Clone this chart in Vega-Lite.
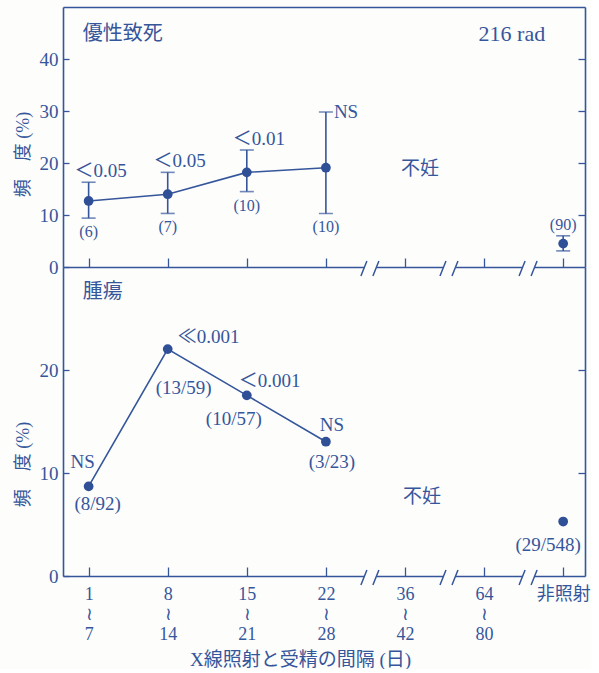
{
  "$schema": "https://vega.github.io/schema/vega-lite/v6.json",
  "autosize": {"type": "pad"},
  "padding": {"left": 14, "top": 7, "right": 0, "bottom": 0},
  "background": "#fdfdfc",
  "bounds": "flush",
  "spacing": 0,
  "config": {
    "view": {"stroke": null},
    "font": "'Liberation Serif', 'DejaVu Serif', 'Noto Sans CJK JP', serif",
    "text": {"color": "#35569b", "font": "'Liberation Serif', 'DejaVu Serif', 'Noto Sans CJK JP', serif", "fontSize": 19, "baseline": "middle"},
    "axis": {
      "domainColor": "#35569b", "domainWidth": 1.6,
      "tickColor": "#35569b", "tickWidth": 1.3,
      "labelColor": "#35569b", "titleColor": "#35569b",
      "labelFont": "'Liberation Serif', 'DejaVu Serif', 'Noto Sans CJK JP', serif",
      "titleFont": "'Liberation Serif', 'DejaVu Serif', 'Noto Sans CJK JP', serif",
      "labelFontSize": 19, "titleFontSize": 18, "titleFontWeight": "normal",
      "grid": false, "labelOverlap": false
    }
  },
  "datasets": {
    "lethal": [
      {"interval": "1~7", "rate": 12.7, "lo": 9.4, "hi": 16.3, "p": "＜0.05", "n": "(6)"},
      {"interval": "8~14", "rate": 14.0, "lo": 10.3, "hi": 18.2, "p": "＜0.05", "n": "(7)"},
      {"interval": "15~21", "rate": 18.2, "lo": 14.5, "hi": 22.5, "p": "＜0.01", "n": "(10)"},
      {"interval": "22~28", "rate": 19.1, "lo": 10.3, "hi": 29.8, "p": "NS", "n": "(10)"},
      {"interval": "非照射", "rate": 4.5, "lo": 3.1, "hi": 6.0, "p": null, "n": "(90)"}
    ],
    "tumor": [
      {"interval": "1~7", "rate": 8.70, "p": "NS", "n": "(8/92)"},
      {"interval": "8~14", "rate": 22.03, "p": "≪0.001", "n": "(13/59)"},
      {"interval": "15~21", "rate": 17.54, "p": "＜0.001", "n": "(10/57)"},
      {"interval": "22~28", "rate": 13.04, "p": "NS", "n": "(3/23)"},
      {"interval": "非照射", "rate": 5.29, "p": null, "n": "(29/548)"}
    ],
    "breaks": [
      {"after": "22~28"},
      {"after": "36~42"},
      {"after": "64~80"}
    ]
  },
  "vconcat": [
    {
      "width": 522,
      "height": 260,
      "data": {"name": "lethal"},
      "resolve": {"axis": {"x": "independent", "y": "independent"}},
      "layer": [
        {
          "transform": [{"filter": "datum.interval !== '非照射'"}],
          "mark": {"type": "line", "color": "#35569b", "strokeWidth": 1.6},
          "encoding": {
            "x": {"field": "interval", "type": "nominal", "scale": {"type": "point", "domain": ["1~7", "8~14", "15~21", "22~28", "36~42", "64~80", "非照射"], "padding": 0.3, "align": 0.54},
              "axis": {"orient": "bottom", "labels": false, "title": null, "tickSize": -9, "domain": true}},
            "y": {"field": "rate", "type": "quantitative", "scale": {"domain": [0, 50], "nice": false},
              "axis": {"orient": "left", "values": [0, 10, 20, 30, 40], "tickSize": -6, "labelPadding": 11,
                "title": "頻　度 (%)", "titleX": -40, "titleY": 147, "titleAngle": -90, "titleBaseline": "middle", "titleAlign": "center"}}
          }
        },
        {
          "mark": {"type": "point", "opacity": 0},
          "encoding": {
            "x": {"field": "interval", "type": "nominal", "scale": {"type": "point", "domain": ["1~7", "8~14", "15~21", "22~28", "36~42", "64~80", "非照射"], "padding": 0.3, "align": 0.54},
              "axis": {"orient": "top", "labels": false, "ticks": false, "title": null, "domain": true}},
            "y": {"field": "rate", "type": "quantitative", "scale": {"domain": [0, 50], "nice": false},
              "axis": {"orient": "right", "labels": false, "values": [10, 20, 30, 40], "tickSize": -7, "title": null}}
          }
        },
        {
          "mark": {"type": "errorbar", "ticks": true, "size": 14, "thickness": 1.6, "color": "#35569b"},
          "encoding": {
            "x": {"field": "interval", "type": "nominal", "scale": {"type": "point", "domain": ["1~7", "8~14", "15~21", "22~28", "36~42", "64~80", "非照射"], "padding": 0.3, "align": 0.54}, "axis": null},
            "y": {"field": "lo", "type": "quantitative", "scale": {"domain": [0, 50], "nice": false}, "axis": null},
            "y2": {"field": "hi"}
          }
        },
        {
          "mark": {"type": "circle", "size": 95, "color": "#2f4f96", "opacity": 1},
          "encoding": {
            "x": {"field": "interval", "type": "nominal", "scale": {"type": "point", "domain": ["1~7", "8~14", "15~21", "22~28", "36~42", "64~80", "非照射"], "padding": 0.3, "align": 0.54}, "axis": null},
            "y": {"field": "rate", "type": "quantitative", "scale": {"domain": [0, 50], "nice": false}, "axis": null}
          }
        },
        {
          "transform": [{"filter": "datum.p && datum.p !== 'NS'"}],
          "mark": {"type": "text", "dx": 12, "dy": -11, "fontSize": 19},
          "encoding": {
            "x": {"field": "interval", "type": "nominal", "scale": {"type": "point", "domain": ["1~7", "8~14", "15~21", "22~28", "36~42", "64~80", "非照射"], "padding": 0.3, "align": 0.54}, "axis": null},
            "y": {"field": "hi", "type": "quantitative", "scale": {"domain": [0, 50], "nice": false}, "axis": null},
            "text": {"field": "p"}
          }
        },
        {
          "transform": [{"filter": "datum.p === 'NS'"}],
          "mark": {"type": "text", "align": "left", "dx": 8, "dy": 0, "fontSize": 19},
          "encoding": {
            "x": {"field": "interval", "type": "nominal", "scale": {"type": "point", "domain": ["1~7", "8~14", "15~21", "22~28", "36~42", "64~80", "非照射"], "padding": 0.3, "align": 0.54}, "axis": null},
            "y": {"field": "hi", "type": "quantitative", "scale": {"domain": [0, 50], "nice": false}, "axis": null},
            "text": {"field": "p"}
          }
        },
        {
          "transform": [{"filter": "datum.interval !== '非照射'"}],
          "mark": {"type": "text", "dy": 14, "fontSize": 16},
          "encoding": {
            "x": {"field": "interval", "type": "nominal", "scale": {"type": "point", "domain": ["1~7", "8~14", "15~21", "22~28", "36~42", "64~80", "非照射"], "padding": 0.3, "align": 0.54}, "axis": null},
            "y": {"field": "lo", "type": "quantitative", "scale": {"domain": [0, 50], "nice": false}, "axis": null},
            "text": {"field": "n"}
          }
        },
        {
          "transform": [{"filter": "datum.interval === '非照射'"}],
          "mark": {"type": "text", "dy": -11, "fontSize": 16},
          "encoding": {
            "x": {"field": "interval", "type": "nominal", "scale": {"type": "point", "domain": ["1~7", "8~14", "15~21", "22~28", "36~42", "64~80", "非照射"], "padding": 0.3, "align": 0.54}, "axis": null},
            "y": {"field": "hi", "type": "quantitative", "scale": {"domain": [0, 50], "nice": false}, "axis": null},
            "text": {"field": "n"}
          }
        },
        {
          "data": {"values": [{}]},
          "mark": {"type": "text", "text": "優性致死", "align": "left", "dx": -6, "fontSize": 20},
          "encoding": {
            "x": {"datum": "1~7", "type": "nominal", "scale": {"type": "point", "domain": ["1~7", "8~14", "15~21", "22~28", "36~42", "64~80", "非照射"], "padding": 0.3, "align": 0.54}, "axis": null},
            "y": {"datum": 44.8, "type": "quantitative", "scale": {"domain": [0, 50], "nice": false}, "axis": null}
          }
        },
        {
          "data": {"values": [{}]},
          "mark": {"type": "text", "text": "216 rad", "align": "right", "dx": -18, "fontSize": 22},
          "encoding": {
            "x": {"datum": "非照射", "type": "nominal", "scale": {"type": "point", "domain": ["1~7", "8~14", "15~21", "22~28", "36~42", "64~80", "非照射"], "padding": 0.3, "align": 0.54}, "axis": null},
            "y": {"datum": 44.8, "type": "quantitative", "scale": {"domain": [0, 50], "nice": false}, "axis": null}
          }
        },
        {
          "data": {"values": [{}]},
          "mark": {"type": "text", "text": "不妊", "align": "left", "dx": -4, "fontSize": 19},
          "encoding": {
            "x": {"datum": "36~42", "type": "nominal", "scale": {"type": "point", "domain": ["1~7", "8~14", "15~21", "22~28", "36~42", "64~80", "非照射"], "padding": 0.3, "align": 0.54}, "axis": null},
            "y": {"datum": 18.8, "type": "quantitative", "scale": {"domain": [0, 50], "nice": false}, "axis": null}
          }
        },
        {
          "data": {"name": "breaks"},
          "mark": {"type": "point", "shape": "M38.6,-2.5H50.6V2.5H38.6Z", "size": 4, "filled": true, "color": "#fdfdfc", "opacity": 1, "strokeWidth": 0},
          "encoding": {
            "x": {"field": "after", "type": "nominal", "scale": {"type": "point", "domain": ["1~7", "8~14", "15~21", "22~28", "36~42", "64~80", "非照射"], "padding": 0.3, "align": 0.54}, "axis": null},
            "y": {"datum": 0, "type": "quantitative", "scale": {"domain": [0, 50], "nice": false}, "axis": null}
          }
        },
        {
          "data": {"name": "breaks"},
          "mark": {"type": "point", "shape": "M35,9L41,-6M47,9L53,-6", "size": 4, "filled": false, "color": "#35569b", "opacity": 1, "strokeWidth": 1.5},
          "encoding": {
            "x": {"field": "after", "type": "nominal", "scale": {"type": "point", "domain": ["1~7", "8~14", "15~21", "22~28", "36~42", "64~80", "非照射"], "padding": 0.3, "align": 0.54}, "axis": null},
            "y": {"datum": 0, "type": "quantitative", "scale": {"domain": [0, 50], "nice": false}, "axis": null}
          }
        }
      ]
    },
    {
      "width": 522,
      "height": 309,
      "data": {"name": "tumor"},
      "resolve": {"axis": {"x": "independent", "y": "independent"}},
      "layer": [
        {
          "transform": [{"filter": "datum.interval !== '非照射'"}],
          "mark": {"type": "line", "color": "#35569b", "strokeWidth": 1.6},
          "encoding": {
            "x": {"field": "interval", "type": "nominal", "scale": {"type": "point", "domain": ["1~7", "8~14", "15~21", "22~28", "36~42", "64~80", "非照射"], "padding": 0.3, "align": 0.54},
              "axis": {"orient": "bottom", "tickSize": -9, "domain": true, "labelPadding": 18, "labelAngle": 0, "labelBaseline": "top", "labelFontSize": 18, "labelLineHeight": 20,
                "labelExpr": "datum.value == '非照射' ? datum.value : [split(datum.value, '~')[0], '≀', split(datum.value, '~')[1]]",
                "title": "X線照射と受精の間隔 (日)", "titleFontSize": 19, "titleX": 237, "titleY": 83, "titleBaseline": "middle", "titleAlign": "center"}},
            "y": {"field": "rate", "type": "quantitative", "scale": {"domain": [0, 30], "nice": false},
              "axis": {"orient": "left", "values": [0, 10, 20], "tickSize": -6, "labelPadding": 11,
                "title": "頻　度 (%)", "titleX": -40, "titleY": 197, "titleAngle": -90, "titleBaseline": "middle", "titleAlign": "center"}}
          }
        },
        {
          "mark": {"type": "point", "opacity": 0},
          "encoding": {
            "x": {"field": "interval", "type": "nominal", "scale": {"type": "point", "domain": ["1~7", "8~14", "15~21", "22~28", "36~42", "64~80", "非照射"], "padding": 0.3, "align": 0.54}, "axis": null},
            "y": {"field": "rate", "type": "quantitative", "scale": {"domain": [0, 30], "nice": false},
              "axis": {"orient": "right", "labels": false, "values": [10, 20], "tickSize": -7, "title": null}}
          }
        },
        {
          "mark": {"type": "circle", "size": 95, "color": "#2f4f96", "opacity": 1},
          "encoding": {
            "x": {"field": "interval", "type": "nominal", "scale": {"type": "point", "domain": ["1~7", "8~14", "15~21", "22~28", "36~42", "64~80", "非照射"], "padding": 0.3, "align": 0.54}, "axis": null},
            "y": {"field": "rate", "type": "quantitative", "scale": {"domain": [0, 30], "nice": false}, "axis": null}
          }
        },
        {
          "transform": [{"filter": "datum.interval === '1~7'"}],
          "layer": [
            {"mark": {"type": "text", "dx": -6, "dy": -24}, "encoding": {"text": {"field": "p"}}},
            {"mark": {"type": "text", "dx": 9, "dy": 18}, "encoding": {"text": {"field": "n"}}}
          ],
          "encoding": {
            "x": {"field": "interval", "type": "nominal", "scale": {"type": "point", "domain": ["1~7", "8~14", "15~21", "22~28", "36~42", "64~80", "非照射"], "padding": 0.3, "align": 0.54}, "axis": null},
            "y": {"field": "rate", "type": "quantitative", "scale": {"domain": [0, 30], "nice": false}, "axis": null}
          }
        },
        {
          "transform": [{"filter": "datum.interval === '8~14'"}],
          "layer": [
            {"mark": {"type": "text", "align": "left", "dx": 10, "dy": -12}, "encoding": {"text": {"field": "p"}}},
            {"mark": {"type": "text", "dx": 16, "dy": 39}, "encoding": {"text": {"field": "n"}}}
          ],
          "encoding": {
            "x": {"field": "interval", "type": "nominal", "scale": {"type": "point", "domain": ["1~7", "8~14", "15~21", "22~28", "36~42", "64~80", "非照射"], "padding": 0.3, "align": 0.54}, "axis": null},
            "y": {"field": "rate", "type": "quantitative", "scale": {"domain": [0, 30], "nice": false}, "axis": null}
          }
        },
        {
          "transform": [{"filter": "datum.interval === '15~21'"}],
          "layer": [
            {"mark": {"type": "text", "align": "left", "dx": -8, "dy": -14}, "encoding": {"text": {"field": "p"}}},
            {"mark": {"type": "text", "dx": -13, "dy": 24}, "encoding": {"text": {"field": "n"}}}
          ],
          "encoding": {
            "x": {"field": "interval", "type": "nominal", "scale": {"type": "point", "domain": ["1~7", "8~14", "15~21", "22~28", "36~42", "64~80", "非照射"], "padding": 0.3, "align": 0.54}, "axis": null},
            "y": {"field": "rate", "type": "quantitative", "scale": {"domain": [0, 30], "nice": false}, "axis": null}
          }
        },
        {
          "transform": [{"filter": "datum.interval === '22~28'"}],
          "layer": [
            {"mark": {"type": "text", "dx": 6, "dy": -17}, "encoding": {"text": {"field": "p"}}},
            {"mark": {"type": "text", "dx": 6, "dy": 20}, "encoding": {"text": {"field": "n"}}}
          ],
          "encoding": {
            "x": {"field": "interval", "type": "nominal", "scale": {"type": "point", "domain": ["1~7", "8~14", "15~21", "22~28", "36~42", "64~80", "非照射"], "padding": 0.3, "align": 0.54}, "axis": null},
            "y": {"field": "rate", "type": "quantitative", "scale": {"domain": [0, 30], "nice": false}, "axis": null}
          }
        },
        {
          "transform": [{"filter": "datum.interval === '非照射'"}],
          "mark": {"type": "text", "dx": -15, "dy": 23},
          "encoding": {
            "x": {"field": "interval", "type": "nominal", "scale": {"type": "point", "domain": ["1~7", "8~14", "15~21", "22~28", "36~42", "64~80", "非照射"], "padding": 0.3, "align": 0.54}, "axis": null},
            "y": {"field": "rate", "type": "quantitative", "scale": {"domain": [0, 30], "nice": false}, "axis": null},
            "text": {"field": "n"}
          }
        },
        {
          "data": {"values": [{}]},
          "mark": {"type": "text", "text": "腫瘍", "align": "left", "dx": -6, "fontSize": 20},
          "encoding": {
            "x": {"datum": "1~7", "type": "nominal", "scale": {"type": "point", "domain": ["1~7", "8~14", "15~21", "22~28", "36~42", "64~80", "非照射"], "padding": 0.3, "align": 0.54}, "axis": null},
            "y": {"datum": 27.6, "type": "quantitative", "scale": {"domain": [0, 30], "nice": false}, "axis": null}
          }
        },
        {
          "data": {"values": [{}]},
          "mark": {"type": "text", "text": "不妊", "align": "left", "dx": -2, "fontSize": 19},
          "encoding": {
            "x": {"datum": "36~42", "type": "nominal", "scale": {"type": "point", "domain": ["1~7", "8~14", "15~21", "22~28", "36~42", "64~80", "非照射"], "padding": 0.3, "align": 0.54}, "axis": null},
            "y": {"datum": 7.7, "type": "quantitative", "scale": {"domain": [0, 30], "nice": false}, "axis": null}
          }
        },
        {
          "data": {"name": "breaks"},
          "mark": {"type": "point", "shape": "M38.6,-2.5H50.6V2.5H38.6Z", "size": 4, "filled": true, "color": "#fdfdfc", "opacity": 1, "strokeWidth": 0},
          "encoding": {
            "x": {"field": "after", "type": "nominal", "scale": {"type": "point", "domain": ["1~7", "8~14", "15~21", "22~28", "36~42", "64~80", "非照射"], "padding": 0.3, "align": 0.54}, "axis": null},
            "y": {"datum": 0, "type": "quantitative", "scale": {"domain": [0, 30], "nice": false}, "axis": null}
          }
        },
        {
          "data": {"name": "breaks"},
          "mark": {"type": "point", "shape": "M35,9L41,-6M47,9L53,-6", "size": 4, "filled": false, "color": "#35569b", "opacity": 1, "strokeWidth": 1.5},
          "encoding": {
            "x": {"field": "after", "type": "nominal", "scale": {"type": "point", "domain": ["1~7", "8~14", "15~21", "22~28", "36~42", "64~80", "非照射"], "padding": 0.3, "align": 0.54}, "axis": null},
            "y": {"datum": 0, "type": "quantitative", "scale": {"domain": [0, 30], "nice": false}, "axis": null}
          }
        }
      ]
    }
  ]
}
